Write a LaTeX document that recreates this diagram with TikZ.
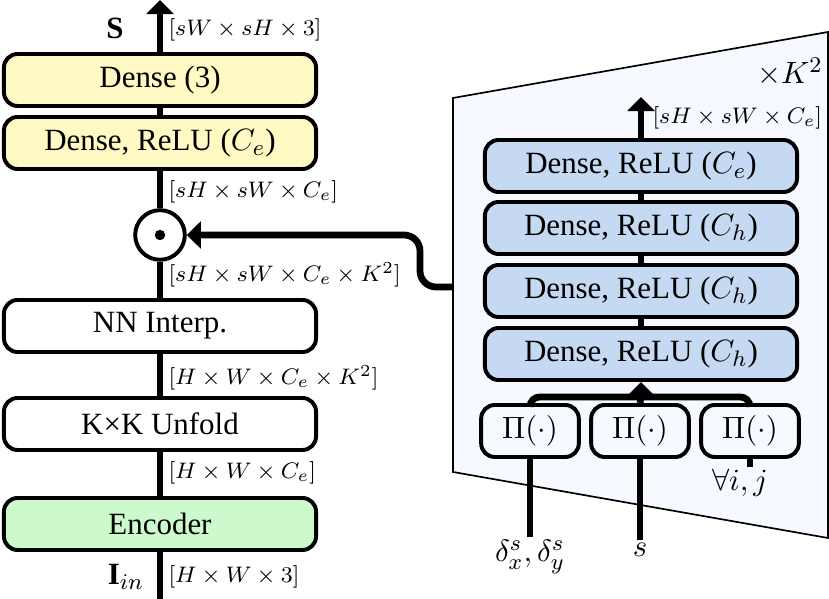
\documentclass[tikz,border=0pt]{standalone}
\usepackage{fontspec}
\setmainfont{Liberation Serif}
\usetikzlibrary{arrows.meta}
\definecolor{boxyellow}{RGB}{255,250,195}
\definecolor{boxgreen}{RGB}{205,250,205}
\definecolor{boxblue}{RGB}{198,217,242}
\definecolor{panelblue}{RGB}{246,249,255}
\begin{document}
\begin{tikzpicture}[x=0.0125cm, y=-0.0125cm,
  every node/.style={font=\fontsize{11}{13}\selectfont},
  layer/.style={draw, line width=1.4pt, rounded corners=0.17cm, minimum width=3.9cm, minimum height=0.65cm, inner sep=0pt},
  pibox/.style={layer, minimum width=1.22cm},
  dims/.style={anchor=west, inner sep=0pt, font=\fontsize{8.5}{10}\selectfont},
  flow/.style={line width=2.4pt},
  tip/.style={-{Triangle[width=9.5pt,length=5pt]}}]
  \useasboundingbox (0,0) rectangle (829,599);
  % Hauptzweig
  \node[layer, fill=boxyellow] (dense3) at (160,80) {Dense (3)};
  \node[layer, fill=boxyellow] (densece) at (160,143) {Dense, ReLU ($C_e$)};
  \node[circle, draw, line width=1.4pt, minimum size=0.62cm, inner sep=0pt] (prod) at (160,235) {};
  \fill (prod.center) circle[radius=0.065cm];
  \node[layer] (nninterp) at (160,326) {NN Interp.};
  \node[layer] (unfold) at (160,424) {K×K Unfold};
  \node[layer, fill=boxgreen] (encoder) at (160,524) {Encoder};
  \coordinate (input) at (160,599);
  \coordinate (output) at (160,0);
  \draw[flow] (input) -- (encoder);
  \draw[flow] (encoder) -- (unfold);
  \draw[flow] (unfold) -- (nninterp);
  \draw[flow] (nninterp) -- (prod);
  \draw[flow] (prod) -- (densece);
  \draw[flow] (densece) -- (dense3);
  \draw[flow, tip] (dense3) -- (output);
  % Dimensionen
  \node (lblout) at (115,28) {$\mathbf{S}$};
  \node (lblin) at (126,577) {$\mathbf{I}_{in}$};
  \node[dims] (dimout) at (168,30) {$[sW \times sH \times 3]$};
  \node[dims] (dimce) at (168,192) {$[sH \times sW \times C_e]$};
  \node[dims] (dimprod) at (168,275) {$[sH \times sW \times C_e \times K^2]$};
  \node[dims] (dimunf) at (168,378) {$[H \times W \times C_e \times K^2]$};
  \node[dims] (dimenc) at (168,473) {$[H \times W \times C_e]$};
  \node[dims] (dimin) at (168,577) {$[H \times W \times 3]$};
  % Gewichtsnetz
  \filldraw[fill=panelblue, line width=0.6pt] (453,98) -- (828,32) -- (828,538) -- (453,472) -- cycle;
  \coordinate (panelport) at (453,287);
  \node (times) at (790,72) {$\times K^2$};
  \node[layer, fill=boxblue] (mlpe) at (641,166) {Dense, ReLU ($C_e$)};
  \node[layer, fill=boxblue] (mlph1) at (641,228) {Dense, ReLU ($C_h$)};
  \node[layer, fill=boxblue] (mlph2) at (641,291) {Dense, ReLU ($C_h$)};
  \node[layer, fill=boxblue] (mlph3) at (641,354) {Dense, ReLU ($C_h$)};
  \node[pibox] (pia) at (530,431) {$\Pi(\cdot)$};
  \node[pibox] (pib) at (640,431) {$\Pi(\cdot)$};
  \node[pibox] (pic) at (750,431) {$\Pi(\cdot)$};
  \coordinate (mlpout) at (641,97);
  \coordinate (merge) at (641,397);
  \coordinate (picend) at (750,467);
  \draw[flow] (mlph3) -- (mlph2);
  \draw[flow] (mlph2) -- (mlph1);
  \draw[flow] (mlph1) -- (mlpe);
  \draw[flow, tip] (mlpe) -- (mlpout);
  \node[dims] (dimmlp) at (652,118) {$[sH \times sW \times C_e]$};
  \draw[flow, rounded corners=0.12cm] (pia.north) |- (merge) -| (pic.north);
  \draw[flow] (pib.north) -- (merge);
  \draw[flow, tip] (merge) -- (mlph3.south);
  % Eingaben
  \node[anchor=north, inner sep=1pt] (lbldelta) at (530,537) {$\delta^s_x, \delta^s_y$};
  \node[anchor=north, inner sep=1pt] (lblscale) at (640,540) {$s$};
  \node (lblall) at (740,483) {$\forall i, j$};
  \draw[flow] (pia.south) -- (lbldelta.north);
  \draw[flow] (pib.south) -- (lblscale.north);
  \draw[flow] (pic.south) -- (picend);
  % Rueckfuehrung
  \draw[flow, tip, rounded corners=0.2cm] (panelport) -- ++(-33,0) |- (prod);
\end{tikzpicture}
\end{document}
